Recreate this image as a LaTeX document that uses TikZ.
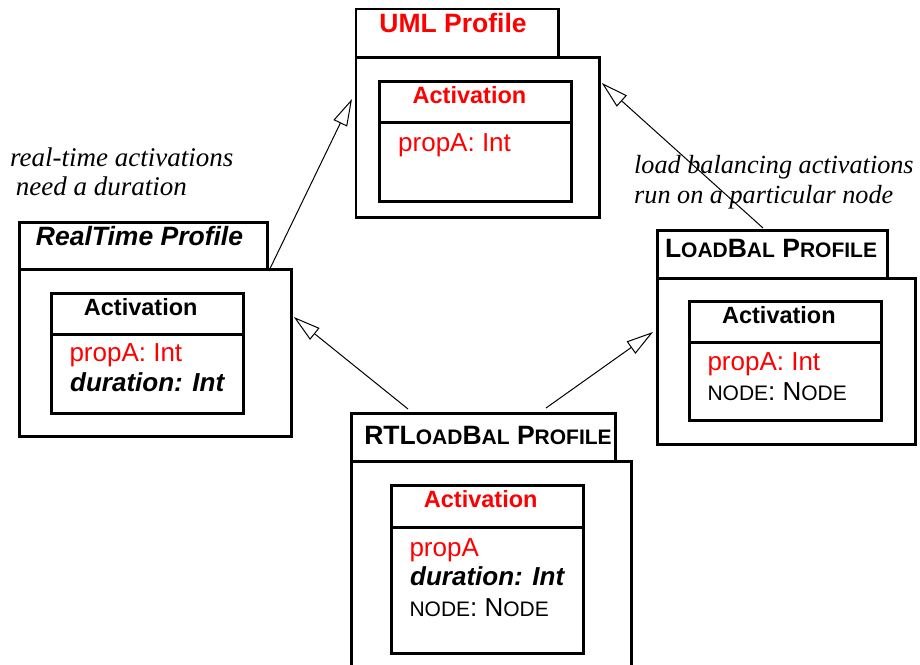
\documentclass[tikz,border=0pt]{standalone}
\usepackage{fontspec}
\setmainfont{Liberation Sans}
\newfontfamily\notefont{Liberation Serif}
\usetikzlibrary{arrows.meta,calc}
\definecolor{umlred}{RGB}{255,0,0}
% hand-made small capitals
\newcommand\sml[1]{{\fontsize{21}{21}\selectfont #1}}

\begin{document}
\begin{tikzpicture}[x=1pt,y=-1pt,
  frame/.style={draw, line width=2.8pt, inner sep=0pt, anchor=north west},
  link/.style={line width=1pt, -{Triangle[open, length=27pt, width=15pt, line width=1pt]}},
  ttl/.style={font=\fontsize{26.5}{26.5}\selectfont\bfseries, anchor=base, inner sep=0pt},
  clsname/.style={font=\fontsize{23.5}{23.5}\selectfont\bfseries, anchor=base, inner sep=0pt},
  attr/.style={font=\fontsize{26}{26}\selectfont, anchor=base west, inner sep=0pt},
  note/.style={font=\fontsize{27}{27}\selectfont\notefont\itshape, anchor=base west, inner sep=0pt}]

\useasboundingbox (0,0) rectangle (920,664);
\clip (0,0) rectangle (920,664);

% ---------- UML Profile ----------
\node[frame, minimum width=202.5, minimum height=48.2] (umltab) at (354.5,7.5) {};
\node[frame, minimum width=243.2, minimum height=160.3] (umlbody) at (354.5,55.7) {};
\node[frame, minimum width=192, minimum height=41] (umlname) at (378,80) {};
\node[frame, minimum width=192, minimum height=79] (umlattr) at (378,121) {};
\node[ttl, text=umlred] (umlttl) at (453,32) {UML Profile};
\node[clsname, text=umlred] (umlcls) at (469.5,103.3) {Activation};
\node[attr, text=umlred] (umla1) at (398,151.7) {propA: Int};

% ---------- RealTime Profile ----------
\node[frame, minimum width=247.7, minimum height=47.3] (rttab) at (18.3,221) {};
\node[frame, minimum width=271.7, minimum height=166.7] (rtbody) at (18.3,268.3) {};
\node[frame, minimum width=191.7, minimum height=41] (rtname) at (50,292.3) {};
\node[frame, minimum width=191.7, minimum height=78.4] (rtattr) at (50,333.3) {};
\node[ttl] (rtttl) at (139.5,245) {\itshape RealTime Profile};
\node[clsname] (rtcls) at (140.7,315) {Activation};
\node[attr, text=umlred] (rta1) at (69.3,361.7) {propA: Int};
\node[attr] (rta2) at (70,391.7) {\bfseries\itshape duration: Int};

% ---------- LoadBal Profile ----------
\node[frame, minimum width=230, minimum height=47.4] (lbtab) at (656,229.3) {};
\node[frame, minimum width=258, minimum height=166.6] (lbbody) at (656,276.7) {};
\node[frame, minimum width=192, minimum height=41.3] (lbname) at (688,300) {};
\node[frame, minimum width=192, minimum height=78] (lbattr) at (688,341.3) {};
\node[ttl] (lbttl) at (771,257) {L\sml{OAD}B\sml{AL} P\sml{ROFILE}};
\node[clsname] (lbcls) at (778.9,323.3) {Activation};
\node[attr, text=umlred] (lba1) at (707.3,370) {propA: Int};
\node[attr] (lba2) at (707.3,400) {\sml{NODE}: N\sml{ODE}};

% ---------- RTLoadBal Profile ----------
\node[frame, minimum width=264, minimum height=47.7] (rlbtab) at (350,412.3) {};
\node[frame, minimum width=280, minimum height=260] (rlbbody) at (350,460) {};
\node[frame, minimum width=191.7, minimum height=41.7] (rlbname) at (390,484) {};
\node[frame, minimum width=191.7, minimum height=126] (rlbattr) at (390,525.7) {};
\node[ttl] (rlbttl) at (488,444) {RTL\sml{OAD}B\sml{AL} P\sml{ROFILE}};
\node[clsname, text=umlred] (rlbcls) at (480.7,507.3) {Activation};
\node[attr, text=umlred] (rlba1) at (409.3,556.7) {propA};
\node[attr] (rlba2) at (410,585) {\bfseries\itshape duration: Int};
\node[attr] (rlba3) at (409.3,616) {\sml{NODE}: N\sml{ODE}};

% ---------- notes ----------
\node[note] (note1a) at (10,166.7) {real-time activations};
\node[note] (note1b) at (15.7,195) {need a duration};
\node[note, font=\fontsize{26.2}{26.2}\selectfont\notefont\itshape] (note2a) at (634,173.3) {load balancing activations};
\node[note, font=\fontsize{26.2}{26.2}\selectfont\notefont\itshape] (note2b) at (634,203.3) {run on a particular node};

% ---------- generalisations ----------
\coordinate (tipuml1) at ($(umlbody.north west)+(-2.5,43.3)$);
\coordinate (tipuml2) at ($(umlbody.north east)+(1.3,27.3)$);
\coordinate (tiprt) at ($(rtbody.north east)+(1,48.7)$);
\coordinate (tiplb) at ($(lbbody.north west)+(-3,55.3)$);
\coordinate (fromlb) at ($(lbtab.north west)+(107,-1.3)$);
\coordinate (fromrlb1) at ($(rlbtab.north west)+(58,-3.3)$);
\coordinate (fromrlb2) at ($(rlbtab.north west)+(196,-4.3)$);

\draw[link] (rttab.south east) -- (tipuml1);
\draw[link] (fromlb) -- (tipuml2);
\draw[link] (fromrlb1) -- (tiprt);
\draw[link] (fromrlb2) -- (tiplb);
\end{tikzpicture}
\end{document}
